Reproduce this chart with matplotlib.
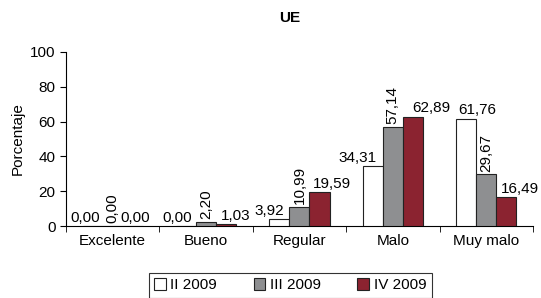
import numpy as np
import matplotlib.pyplot as plt
from matplotlib.ticker import MultipleLocator

plt.rcParams['font.family'] = ['Liberation Sans', 'DejaVu Sans']

# Data
categories = ['Excelente', 'Bueno', 'Regular', 'Malo', 'Muy malo']
series_names = ['II 2009', 'III 2009', 'IV 2009']
ii_2009 = [0.00, 0.00, 3.92, 34.31, 61.76]
iii_2009 = [0.00, 2.20, 10.99, 57.14, 29.67]
iv_2009 = [0.00, 1.03, 19.59, 62.89, 16.49]

colors = ['white', '#8e8f91', '#8b2330']
# horizontal nudges (points) of the value labels, as placed in the original
nudges = [
    [-5, -6, -7, -11, 8],
    [0, 0, 0, 0, 0],
    [2, 7, 9, 13, 10],
]

FS = 11

fig = plt.figure(figsize=(5.41, 2.98), dpi=100)
ax = fig.add_axes([0.122, 0.2416, 0.863, 0.584])

x = np.arange(len(categories))
width = 0.215
all_series = [ii_2009, iii_2009, iv_2009]

for i, (vals, name, col) in enumerate(zip(all_series, series_names, colors)):
    pos = x + (i - 1) * width
    ax.bar(pos, vals, width, color=col, edgecolor='#222222', linewidth=0.8,
           label=name, zorder=3)
    for j, (p, v) in enumerate(zip(pos, vals)):
        txt = f'{v:.2f}'.replace('.', ',')
        if i == 1:
            ax.annotate(txt, xy=(p, v), xytext=(0, 2), textcoords='offset points',
                        ha='center', va='bottom', rotation=90, fontsize=FS)
        else:
            ax.annotate(txt, xy=(p, v), xytext=(nudges[i][j], 1),
                        textcoords='offset points',
                        ha='center', va='bottom', fontsize=FS)

ax.set_xlim(-0.5, len(categories) - 0.5)
ax.set_ylim(0, 100)
ax.yaxis.set_major_locator(MultipleLocator(20))
ax.set_xticks(x)
ax.set_xticklabels(categories, fontsize=FS)
ax.set_xticks(np.arange(-0.5, len(categories)), minor=True)
ax.tick_params(axis='x', which='major', length=0, pad=6)
ax.tick_params(axis='x', which='minor', length=4, direction='out')
ax.tick_params(axis='y', labelsize=FS, length=4, direction='out')
ax.set_ylabel('Porcentaje', fontsize=FS, labelpad=4)

ax.spines['top'].set_visible(False)
ax.spines['right'].set_visible(False)

fig.text(0.536, 0.94, 'UE', ha='center', va='center', fontsize=FS, fontweight='bold')

leg = fig.legend(loc='upper center', bbox_to_anchor=(0.5365, 0.084), ncol=3,
                 fontsize=FS, frameon=True, fancybox=False, edgecolor='black',
                 handlelength=0.75, handleheight=0.75, handletextpad=0.3,
                 columnspacing=2.4, borderpad=0.35, borderaxespad=0)
leg.get_frame().set_linewidth(0.8)

fig.savefig('out.png', dpi=100)
